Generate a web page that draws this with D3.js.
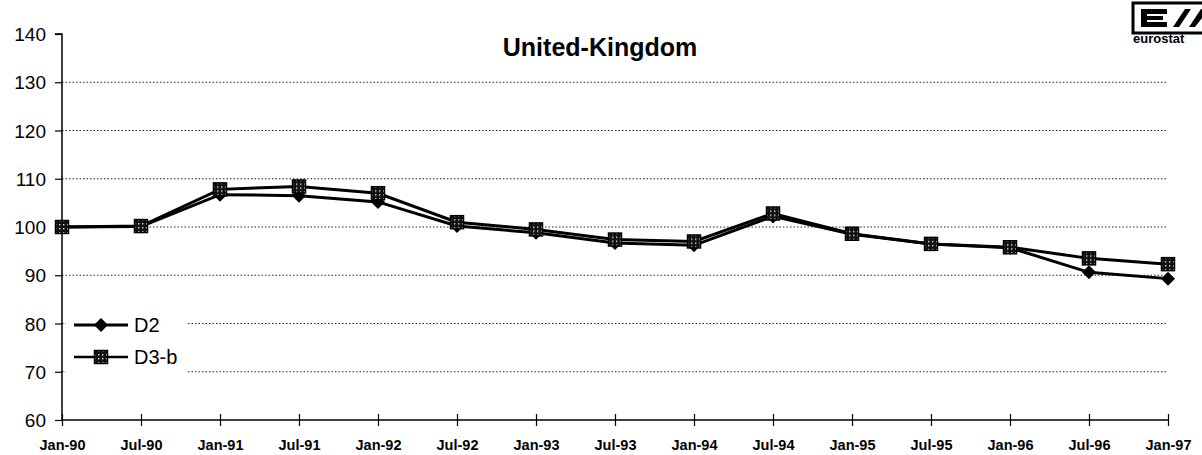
<!DOCTYPE html>
<html><head><meta charset="utf-8">
<script src="https://cdn.jsdelivr.net/npm/d3@7"></script>
<style>body{margin:0;background:#fff}svg{display:block}</style>
</head><body><svg id="c" width="1202" height="455"></svg>
<script>
const categories = ["Jan-90","Jul-90","Jan-91","Jul-91","Jan-92","Jul-92","Jan-93","Jul-93","Jan-94","Jul-94","Jan-95","Jul-95","Jan-96","Jul-96","Jan-97"];
const d2 = [100,100.1,106.7,106.5,105.2,100.2,98.8,96.7,96.2,102.2,98.5,96.5,95.7,90.6,89.3];
const d3b = [100,100.2,107.8,108.4,107.0,101.0,99.5,97.4,97.0,102.8,98.6,96.5,95.8,93.5,92.3];
const yTicks = [60,70,80,90,100,110,120,130,140];
const seriesNames = ["D2","D3-b"];
const titleText = "United-Kingdom";

const FONT = "Liberation Sans, Arial, sans-serif";
const svg = d3.select("#c");
const x = d3.scalePoint().domain(categories).range([62,1168]);
const y = d3.scaleLinear().domain([60,140]).range([420,34]);

const defs = svg.append("defs");
const pat = defs.append("pattern").attr("id","chk").attr("width",4).attr("height",4).attr("patternUnits","userSpaceOnUse");
pat.append("rect").attr("width",4).attr("height",4).attr("fill","#111");
pat.append("rect").attr("x",1).attr("y",1).attr("width",1.4).attr("height",1.4).attr("fill","#ddd");

// gridlines
svg.append("g").selectAll("line").data(yTicks.filter(v=>v>60&&v<140)).join("line")
  .attr("x1",62).attr("x2",1168).attr("y1",d=>y(d)).attr("y2",d=>y(d))
  .attr("stroke","#222").attr("stroke-width",1).attr("stroke-dasharray","1.5,2");

// y axis
const ya = svg.append("g").attr("transform","translate(62,0)")
  .call(d3.axisLeft(y).tickValues(yTicks).tickSize(7).tickFormat(d3.format("d")));
ya.select(".domain").attr("stroke","#000").attr("stroke-width",1.5).attr("d","M-7,34H0V420");
ya.selectAll(".tick line").attr("stroke","#000").attr("stroke-width",1.2);
ya.selectAll("text").attr("font-family",FONT).attr("font-size",19).attr("fill","#000").attr("x",-16).attr("dy","0.35em");

// x axis
const xa = svg.append("g").attr("transform","translate(0,420)")
  .call(d3.axisBottom(x).tickSize(0));
xa.select(".domain").attr("stroke","#000").attr("stroke-width",1.5).attr("d","M62,0H1168");
xa.selectAll(".tick").append("line").attr("y1",-6).attr("y2",6).attr("stroke","#000").attr("stroke-width",1.2);
xa.selectAll("text").attr("font-family",FONT).attr("font-size",14.5).attr("font-weight","bold").attr("fill","#000").attr("dy","0").attr("y",30);

// lines
const line = d3.line().x((d,i)=>x(categories[i])).y(d=>y(d));
svg.append("path").datum(d2).attr("d",line).attr("fill","none").attr("stroke","#000").attr("stroke-width",3);
svg.append("path").datum(d3b).attr("d",line).attr("fill","none").attr("stroke","#000").attr("stroke-width",3);

function diamond(g){ g.append("path").attr("d","M0,-7L7,0L0,7L-7,0Z").attr("fill","#000"); }
function square(g){ g.append("rect").attr("x",-6.5).attr("y",-6.5).attr("width",13).attr("height",13).attr("fill","url(#chk)").attr("stroke","#000").attr("stroke-width",1.5); }

svg.append("g").selectAll("g").data(d2).join("g")
  .attr("transform",(d,i)=>`translate(${x(categories[i])},${y(d)})`).each(function(){diamond(d3.select(this));});
svg.append("g").selectAll("g").data(d3b).join("g")
  .attr("transform",(d,i)=>`translate(${x(categories[i])},${y(d)})`).each(function(){square(d3.select(this));});

// legend
const lg = svg.append("g");
lg.append("rect").attr("x",66).attr("y",310).attr("width",120).attr("height",82).attr("fill","#fff");
const ly = [325, 357];
seriesNames.forEach((n,i)=>{
  const gy = ly[i];
  lg.append("line").attr("x1",74).attr("x2",128).attr("y1",gy).attr("y2",gy).attr("stroke","#000").attr("stroke-width",i===0?3:2.5);
  const m = lg.append("g").attr("transform",`translate(101,${gy})`);
  if(i===0) diamond(m); else square(m);
  lg.append("text").attr("x",134).attr("y",gy).attr("dy","0.35em").text(n)
    .attr("font-family",FONT).attr("font-size",20).attr("fill","#000");
});

// title
svg.append("text").attr("x",600).attr("y",56).attr("text-anchor","middle").text(titleText)
  .attr("font-family",FONT).attr("font-size",25).attr("font-weight","bold").attr("fill","#000");

// eurostat logo
const logo = svg.append("g").attr("transform","translate(1133,0)");
logo.append("rect").attr("x",0).attr("y",3).attr("width",72).attr("height",30).attr("fill","#fff").attr("stroke","#000").attr("stroke-width",3);
logo.append("path").attr("d","M8,9H34V14H14V16H30V20H14V22H34V27H8Z").attr("fill","#000");
logo.append("path").attr("d","M40,27L52,9H58L46,27Z").attr("fill","#000");
logo.append("path").attr("d","M56,27L68,9H72V14L62,27Z").attr("fill","#000");
logo.append("text").attr("x",0).attr("y",43).text("eurostat")
  .attr("font-family",FONT).attr("font-size",13).attr("font-weight","bold").attr("fill","#000");
</script></body></html>
